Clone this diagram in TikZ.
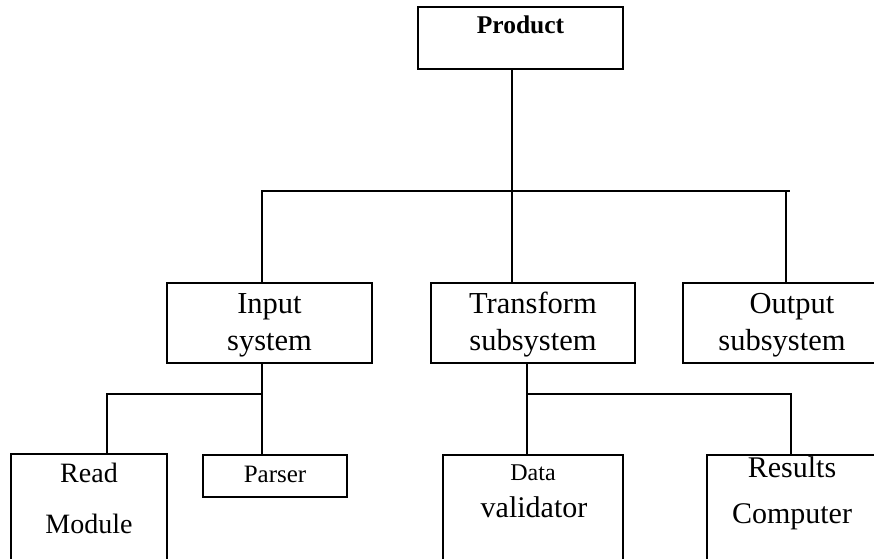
\documentclass[tikz,border=0pt]{standalone}
\usepackage{fontspec}
\setmainfont{Liberation Serif}
\begin{document}
\begin{tikzpicture}[x=1pt,y=-1pt,
  box/.style={draw, line width=1.6pt, rectangle, inner sep=0pt},
  link/.style={line width=1.6pt},
  txt/.style={font=\fontsize{#1}{#1}\selectfont, anchor=base, inner sep=0pt},
  title/.style={font=\fontsize{25.5}{30}\selectfont\bfseries, anchor=base, inner sep=0pt},
]
\useasboundingbox (0,0) rectangle (874,558);
\clip (0,0) rectangle (874,558);

% boxes
\node[box, minimum width=205pt, minimum height=62pt] (prod) at (520.5,38) {};
\node[box, minimum width=205pt, minimum height=80pt] (in)   at (269.5,323) {};
\node[box, minimum width=204pt, minimum height=80pt] (tr)   at (533,323) {};
\node[box, minimum width=206pt, minimum height=80pt] (out)  at (786,323) {};
\node[box, minimum width=156pt, minimum height=146pt] (rd)  at (89,527) {};
\node[box, minimum width=144pt, minimum height=42pt] (par)  at (275,476) {};
\node[box, minimum width=180pt, minimum height=145pt] (dv)  at (533,527.5) {};
\node[box, minimum width=171pt, minimum height=145pt] (rc)  at (792.5,527.5) {};

% labels
\node[title] (tprod) at (520.5,33) {Product};
\node[txt=30.5] (tin1) at (269.5,313) {Input};
\node[txt=30.5] (tin2) at (269.5,350) {system};
\node[txt=30.5] (ttr1) at (533,313) {Transform};
\node[txt=30.5] (ttr2) at (533,350) {subsystem};
\node[txt=30.5] (tout1) at (792,313) {Output};
\node[txt=30.5] (tout2) at (782,350) {subsystem};
\node[txt=28] (trd1) at (89,482) {Read};
\node[txt=28] (trd2) at (89,533) {Module};
\node[txt=25] (tpar) at (275,482) {Parser};
\node[txt=24] (tdv1) at (533,480) {Data};
\node[txt=30] (tdv2) at (534,517) {validator};
\node[txt=30] (trc1) at (792,477) {Results};
\node[txt=30] (trc2) at (792,523) {Computer};

% junction points of the tree
\coordinate (top) at (512,191);
\coordinate (barL) at (262,191);
\coordinate (barR) at (790,191);
\coordinate (dropR) at (786,191);
\coordinate (ia) at (262,394);
\coordinate (ib) at (107,394);
\coordinate (ta) at (527,394);
\coordinate (tb) at (791,394);

% first level
\draw[link] (prod.south -| top) -- (top);
\draw[link] (barL |- in.north) -- (barL) -- (barR);
\draw[link] (top) -- (top |- tr.north);
\draw[link] (dropR) -- (dropR |- out.north);

% input subsystem
\draw[link] (ia |- in.south) -- (ia |- par.north);
\draw[link] (ia) -- (ib) -- (ib |- rd.north);

% transform subsystem
\draw[link] (ta |- tr.south) -- (ta |- dv.north);
\draw[link] (ta) -- (tb) -- (tb |- rc.north);
\end{tikzpicture}
\end{document}
